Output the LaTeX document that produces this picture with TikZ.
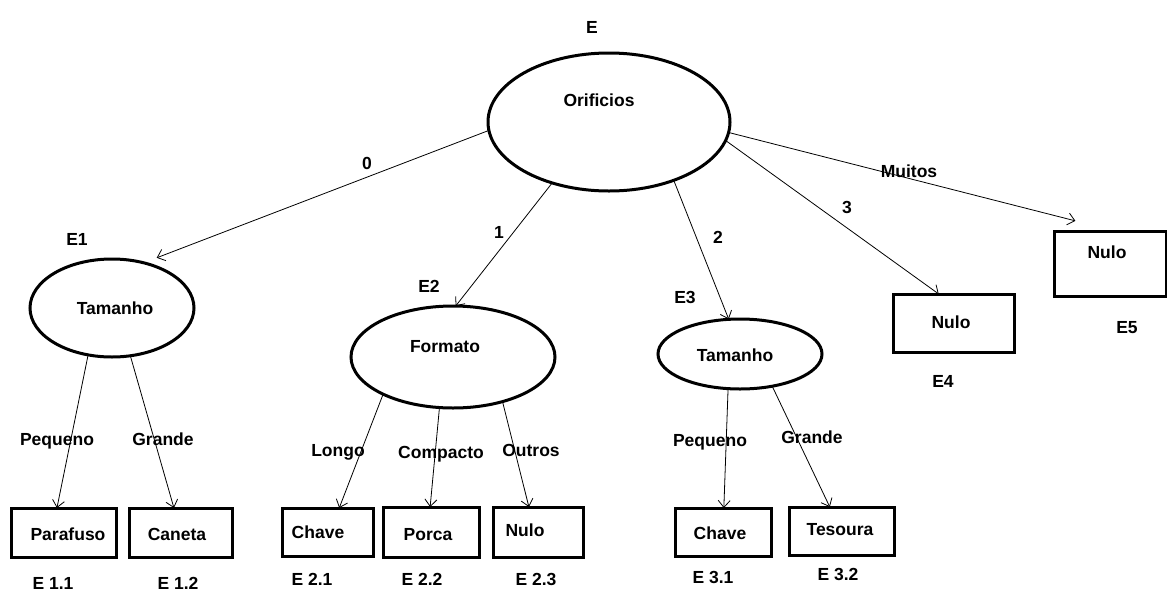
\documentclass[tikz,border=0pt]{standalone}
\usepackage{fontspec}
\setmainfont{Liberation Sans}
\usetikzlibrary{shapes.geometric,arrows.meta}
\begin{document}
\begin{tikzpicture}[x=1pt,y=-1pt,
  every node/.style={font=\fontsize{17.5}{20}\selectfont\bfseries},
  txt/.style={inner sep=0pt,text height=12.5pt,text depth=0pt},
  oval/.style={draw,ellipse,line width=3pt,inner sep=0pt,outer sep=0pt},
  leaf/.style={draw,rectangle,line width=3pt,inner sep=0pt,outer sep=0pt},
  conn/.style={line width=0.8pt,-{Straight Barb[length=7pt,width=12pt]}}
]
\useasboundingbox[fill=white] (0,0) rectangle (1167,592);

% decision nodes
\node[oval,minimum width=242pt,minimum height=138pt] (E)  at (609,122) {};
\node[oval,minimum width=164pt,minimum height=98pt]  (E1) at (112,308) {};
\node[oval,minimum width=204pt,minimum height=102pt] (E2) at (453,357) {};
\node[oval,minimum width=164pt,minimum height=70pt]  (E3) at (740,354) {};

% leaves
\node[leaf,minimum width=121pt,minimum height=58pt] (E4)  at (953.5,323) {};
\node[leaf,minimum width=112pt,minimum height=65pt] (E5)  at (1110,263.5) {};
\node[leaf,minimum width=105pt,minimum height=49pt] (E11) at (63.5,532.5) {};
\node[leaf,minimum width=103pt,minimum height=49pt] (E12) at (180.5,532.5) {};
\node[leaf,minimum width=91pt,minimum height=48pt]  (E21) at (327.5,532) {};
\node[leaf,minimum width=96pt,minimum height=50pt]  (E22) at (431,532) {};
\node[leaf,minimum width=90pt,minimum height=50pt]  (E23) at (538,532) {};
\node[leaf,minimum width=96pt,minimum height=48pt]  (E31) at (723,532) {};
\node[leaf,minimum width=105pt,minimum height=48pt] (E32) at (841.5,531) {};

% texts inside shapes
\node[txt] (tE)   at (599,100) {Orificios};
\node[txt] (tE1)  at (115,308) {Tamanho};
\node[txt] (tE2)  at (445,346) {Formato};
\node[txt] (tE3)  at (735,355) {Tamanho};
\node[txt] (tE4)  at (951,322) {Nulo};
\node[txt] (tE5)  at (1107,252) {Nulo};
\node[txt] (tE11) at (68,534) {Parafuso};
\node[txt] (tE12) at (177,534) {Caneta};
\node[txt] (tE21) at (318,532) {Chave};
\node[txt] (tE22) at (428,534) {Porca};
\node[txt] (tE23) at (525,530) {Nulo};
\node[txt] (tE31) at (720,533) {Chave};
\node[txt] (tE32) at (840,529) {Tesoura};

% state names
\node[txt] (nE)   at (592,27)  {E};
\node[txt] (nE1)  at (77,239)  {E1};
\node[txt] (nE2)  at (429,286) {E2};
\node[txt] (nE3)  at (685,297) {E3};
\node[txt] (nE4)  at (943,381) {E4};
\node[txt] (nE5)  at (1127,327) {E5};
\node[txt] (nE11) at (53,583)  {E 1.1};
\node[txt] (nE12) at (178,583) {E 1.2};
\node[txt] (nE21) at (312,579) {E 2.1};
\node[txt] (nE22) at (422,579) {E 2.2};
\node[txt] (nE23) at (536,579) {E 2.3};
\node[txt] (nE31) at (713,577) {E 3.1};
\node[txt] (nE32) at (838,574) {E 3.2};

% connectors
\draw[conn,shorten >=14pt] (E.184) -- (E1.55);
\draw[conn] (E.227) -- (E2.87);
\draw[conn] (E.318) -- (E3.108);
\draw[conn] (E.351) -- (E4.117);
\draw[conn,shorten >=41pt] (E.355) -- (E5.81);
\draw[conn] (E1.243) -- (E11.105);
\draw[conn] (E1.291) -- (E12.105);
\draw[conn] (E2.208) -- (E21.64);
\draw[conn] (E2.255) -- (E22.92);
\draw[conn] (E2.318) -- (E23.110);
\draw[conn] (E3.251) -- (E31.88);
\draw[conn] (E3.315) -- (E32.116);

% connector labels
\node[txt] (l0)  at (367,163) {0};
\node[txt] (l1)  at (499,232) {1};
\node[txt] (l2)  at (718,237) {2};
\node[txt] (l3)  at (847,207) {3};
\node[txt] (lM)  at (909,171) {Muitos};
\node[txt] (lP1) at (57,439)  {Pequeno};
\node[txt] (lG1) at (163,439) {Grande};
\node[txt] (lL)  at (338,450) {Longo};
\node[txt] (lC)  at (441,452) {Compacto};
\node[txt] (lO)  at (531,450) {Outros};
\node[txt] (lP3) at (710,440) {Pequeno};
\node[txt] (lG3) at (812,437) {Grande};
\end{tikzpicture}
\end{document}
